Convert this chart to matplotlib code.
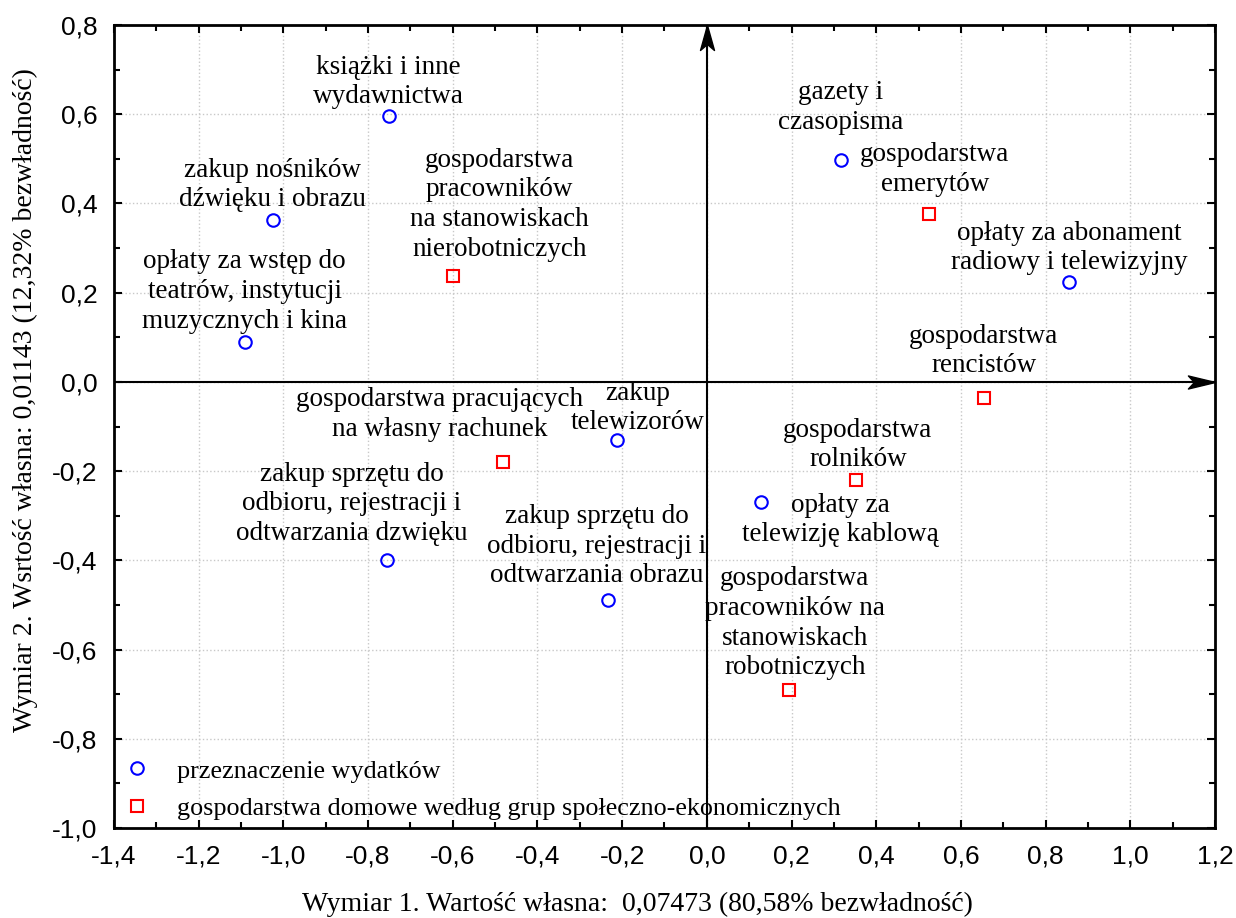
import matplotlib
matplotlib.use("Agg")
import matplotlib.pyplot as plt
from matplotlib.path import Path
from matplotlib.ticker import MultipleLocator, FuncFormatter

# przeznaczenie wydatków (niebieskie kółka)
wydatki_nazwy = [
    "książki i inne\nwydawnictwa",
    "zakup nośników\ndźwięku i obrazu",
    "opłaty za wstęp do\nteatrów, instytucji\nmuzycznych i kina",
    "gazety i\nczasopisma",
    "opłaty za abonament\nradiowy i telewizyjny",
    "zakup\ntelewizorów",
    "zakup sprzętu do\nodbioru, rejestracji i\nodtwarzania dzwięku",
    "zakup sprzętu do\nodbioru, rejestracji i\nodtwarzania obrazu",
    "opłaty za\ntelewizję kablową",
]
wydatki_x = [-0.751, -1.025, -1.091, 0.316, 0.855, -0.213, -0.756, -0.234, 0.128]
wydatki_y = [0.596, 0.363, 0.090, 0.498, 0.224, -0.130, -0.399, -0.489, -0.269]

# gospodarstwa domowe (czerwone kwadraty)
gosp_nazwy = [
    "gospodarstwa\npracowników\nna stanowiskach\nnierobotniczych",
    "gospodarstwa\nemerytów",
    "gospodarstwa\nrencistów",
    "gospodarstwa pracujących\nna własny rachunek",
    "gospodarstwa\nrolników",
    "gospodarstwa\npracowników na\nstanowiskach\nrobotniczych",
]
gosp_x = [-0.600, 0.524, 0.654, -0.482, 0.352, 0.194]
gosp_y = [0.238, 0.377, -0.036, -0.179, -0.220, -0.691]

# przesunięcia etykiet (piksele)
wydatki_off = [(0, 34), (0, 35), (0, 50), (0, 52), (0, 34), (21, 32), (-35, 56), (-11, 54), (79, -18)]
gosp_off = [(47, 71), (6, 44), (0, 47), (-63, 47), (2, 35), (6, 67)]

serif = "Liberation Serif"
sans = "Liberation Sans"
fs = 19.5

fig = plt.figure(figsize=(12.36, 9.18), dpi=100)
ax = fig.add_axes([0.0922, 0.098, 0.8908, 0.8748])

ax.set_xlim(-1.4, 1.2)
ax.set_ylim(-1.0, 0.8)

ax.grid(True, which='major', color='#c8c8c8', linestyle=':', linewidth=1)
ax.set_axisbelow(True)

# osie ze strzałkami (grot typu "stealth")
ax.axhline(0, color='black', lw=1.5)
ax.axvline(0, color='black', lw=1.5)
grot_prawo = Path([(0, 0), (-27, 6.5), (-21, 0), (-27, -6.5), (0, 0)],
                  [Path.MOVETO, Path.LINETO, Path.LINETO, Path.LINETO, Path.CLOSEPOLY])
grot_gora = Path([(0, 0), (7, -25), (0, -19), (-7, -25), (0, 0)],
                 [Path.MOVETO, Path.LINETO, Path.LINETO, Path.LINETO, Path.CLOSEPOLY])
ax.plot([1.2], [0], marker=grot_prawo, markersize=39, color='black', clip_on=False, zorder=5)
ax.plot([0], [0.8], marker=grot_gora, markersize=36, color='black', clip_on=False, zorder=5)

ax.plot(wydatki_x, wydatki_y, 'o', markerfacecolor='none', markeredgecolor='blue',
        markeredgewidth=1.5, markersize=9, linestyle='None', label='przeznaczenie wydatków')
ax.plot(gosp_x, gosp_y, 's', markerfacecolor='none', markeredgecolor='red',
        markeredgewidth=1.5, markersize=8.5, linestyle='None',
        label='gospodarstwa domowe według grup społeczno-ekonomicznych')

for nazwa, x, y, off in zip(wydatki_nazwy, wydatki_x, wydatki_y, wydatki_off):
    ax.annotate(nazwa, (x, y), xytext=off, textcoords='offset pixels', ha='center',
                va='center', fontsize=fs, family=serif, linespacing=1.25)
for nazwa, x, y, off in zip(gosp_nazwy, gosp_x, gosp_y, gosp_off):
    ax.annotate(nazwa, (x, y), xytext=off, textcoords='offset pixels', ha='center',
                va='center', fontsize=fs, family=serif, linespacing=1.25)

ax.xaxis.set_major_locator(MultipleLocator(0.2))
ax.xaxis.set_minor_locator(MultipleLocator(0.1))
ax.yaxis.set_major_locator(MultipleLocator(0.2))
ax.yaxis.set_minor_locator(MultipleLocator(0.1))
fmt = FuncFormatter(lambda v, p: f"{v:.1f}".replace('.', ',').replace('-0,0', '0,0'))
ax.xaxis.set_major_formatter(fmt)
ax.yaxis.set_major_formatter(fmt)
ax.tick_params(which='both', direction='in', top=True, right=True, width=1.5)
ax.tick_params(which='major', length=6, labelsize=19, pad=12)
ax.tick_params(which='minor', length=4)
for lab in ax.get_xticklabels() + ax.get_yticklabels():
    lab.set_family(sans)
for s in ax.spines.values():
    s.set_linewidth(2)

ax.set_xlabel("Wymiar 1. Wartość własna:  0,07473 (80,58% bezwładność)",
              fontsize=20, family=serif)
ax.set_ylabel("Wymiar 2. Wsrtość własna: 0,01143 (12,32% bezwładność)",
              fontsize=20, family=serif)
ax.xaxis.set_label_coords(0.475, -0.08)
ax.yaxis.set_label_coords(-0.069, 0.533)

ax.legend(loc='lower left', frameon=False, prop={'family': serif, 'size': 18.8},
          handletextpad=0.9, handlelength=1.2, borderaxespad=0, borderpad=0.3,
          labelspacing=0.55)

fig.savefig("out.png", dpi=100)
